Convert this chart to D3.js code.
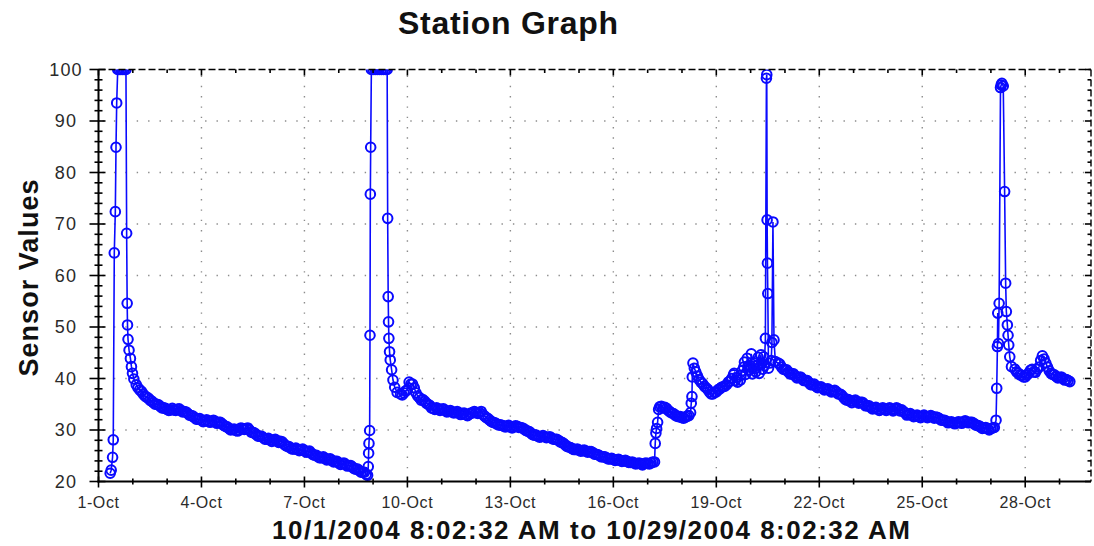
<!DOCTYPE html>
<html><head><meta charset="utf-8">
<script src="https://cdn.jsdelivr.net/npm/d3@7"></script>
<style>body{margin:0;background:#fff}svg{display:block}</style>
</head><body>
<svg id="chart" width="1094" height="546"></svg>
<script>
// ---------------- data (days since 1-Oct-2004 00:00, sensor value) ----------------
const SAMPLE_STEP = 0.1; // days between readings in each smooth stretch

const spike1Days   = [0.34,0.37,0.41,0.43,0.46,0.49,0.51,0.53,0.56,0.60,0.65,0.70,0.75,0.80,0.82,0.835,0.845,0.86,0.89,0.93,0.96,0.99,1.03];
const spike1Values = [21.6,22.2,24.7,28.1,64.4,72.4,84.9,93.5,100,100,100,100,100,100,68.2,54.6,50.4,47.6,45.5,43.9,42.3,41.0,39.9];

const decay1Start  = 1.1;
const decay1Values = [38.8,37.8,37.0,36.4,35.8,35.3,35.0,34.6,34.3,34.0,
                      33.9,33.9,34.0,33.8,33.6,33.2,32.8,32.4,32.1,31.9,
                      31.8,31.7,31.7,31.6,31.5,31.2,30.7,30.3,30.1,29.9,
                      30.0,30.3,30.3,30.0,29.5,29.1,28.8,28.5,28.2,28.1,
                      28.0,27.9,27.8,27.3,26.8,26.5,26.3,26.2,26.1,26.0,
                      25.8,25.5,25.1,24.8,24.6,24.5,24.3,24.1,23.9,23.6,
                      23.5,23.3,23.1,22.8,22.4,22.1,21.8,21.4];
const decay1MidStart  = 1.15;
const decay1MidValues = [38.2,37.5,36.6,36.2,35.6,35.0,34.9,34.3,34.2,33.8,
                         34.2,33.8,34.1,33.5,33.5,32.9,32.7,32.1,32.2,31.6,
                         32.0,31.5,31.9,31.3,31.5,30.9,30.6,30.0,30.2,29.8,
                         30.4,30.1,30.4,29.6,29.4,28.8,28.8,28.2,28.4,27.8,
                         28.2,27.6,27.7,27.0,26.8,26.3,26.5,26.0,26.3,25.7,
                         25.9,25.2,25.1,24.6,24.8,24.2,24.4,23.8,23.9,23.3,
                         23.6,23.0,23.1,22.5,22.4,21.8,21.8];

const spike2Days   = [7.84,7.86,7.87,7.88,7.90,7.91,7.92,7.93,7.95,8.00,8.06,8.12,8.18,8.24,8.30,8.36,8.41,8.425,8.44,8.45,8.46,8.48,8.50,8.54,8.58,8.63,8.70];
const spike2Values = [21.2,22.9,25.5,27.4,29.9,48.4,75.8,84.9,100,100,100,100,100,100,100,100,100,71.1,55.9,51.0,47.8,45.2,43.6,41.7,39.7,38.3,37.3];

const decay2Start  = 8.8;
const decay2Values = [37.0,37.2,37.8,38.9,38.2,36.6,35.8,35.6,35.0,34.3,
                      34.0,34.1,34.0,33.8,33.6,33.5,33.4,33.3,33.2,33.0,
                      33.1,33.3,33.4,33.4,33.0,32.4,31.9,31.5,31.2,31.0,
                      30.8,30.7,30.6,30.6,30.7,30.5,30.2,29.8,29.4,29.0,
                      28.8,28.7,28.7,28.6,28.4,28.2,28.0,27.6,27.1,26.7,
                      26.4,26.2,26.1,26.0,25.9,25.8,25.6,25.3,25.0,24.8,
                      24.6,24.4,24.3,24.2,24.1,24.0,23.9,23.7,23.6,23.5,
                      23.4,23.5,23.5,23.6,23.8];
const decay2MidStart  = 8.85;
const decay2MidValues = [36.8,37.6,39.3,38.9,37.2,36.3,35.9,35.2,34.8,34.2,
                         34.3,33.8,34.1,33.5,33.8,33.3,33.6,33.0,33.3,32.8,
                         33.3,33.6,33.2,33.6,32.7,32.2,31.6,31.4,31.0,30.9,
                         30.6,30.9,30.4,30.8,30.5,30.4,29.9,29.7,29.1,29.0,
                         28.6,28.9,28.5,28.7,28.2,28.2,27.7,27.4,26.8,26.6,
                         26.2,26.3,25.9,26.1,25.7,25.8,25.3,25.2,24.8,24.8,
                         24.4,24.5,24.1,24.3,23.9,24.1,23.7,23.8,23.4,23.6,
                         23.2,23.6,23.4,23.8];

const jump1Days    = [16.22,16.24,16.26,16.29,16.32,16.35];
const jump1Values  = [27.4,29.4,30.3,31.5,34.0,34.5];

const plateauStart  = 16.4;
const plateauValues = [34.6,34.4,33.8,33.3,32.9,32.6,32.4,32.5,32.8];
const plateauMidStart  = 16.45;
const plateauMidValues = [34.3,34.2,33.5,33.2,32.7,32.6,32.3,32.7];

const jump2Days    = [17.25,17.27,17.29,17.30,17.32,17.36,17.40,17.45];
const jump2Values  = [33.4,35.2,36.5,40.3,43.0,42.0,41.3,40.5];

const spike3Days   = [17.5,17.6,17.7,17.8,17.9,18.0,18.1,18.2,18.3,18.4,18.5,
                      18.55,18.6,18.7,18.75,18.8,18.85,18.9,18.95,19.0,
                      19.05,19.1,19.15,19.2,19.25,19.3,19.35,19.4,
                      19.43,19.46,19.47,19.48,19.49,19.50,
                      19.52,19.55,19.6,19.62,19.65,19.68,19.72];
const spike3Values = [39.8,39.0,38.2,37.4,37.0,37.4,38.0,38.4,38.8,39.5,40.7,
                      39.6,40.2,39.7,41.5,42.2,40.8,43.9,41.6,42.4,
                      40.9,43.0,41.3,42.6,41.0,44.6,41.8,42.5,
                      47.8,98.3,99.0,70.8,62.4,56.5,
                      42.0,43.0,43.5,47.0,70.4,47.5,43.3];
const noise3Days   = [17.55,17.65,17.75,17.85,17.95,18.05,18.15,18.25,18.35,18.45,
                      18.52,18.62,18.72,18.82,18.92,19.02,19.12,19.22,19.32,19.38];
const noise3Values = [39.3,38.5,37.9,37.0,37.3,37.8,38.3,38.5,39.3,40.0,
                      41.0,39.3,40.6,43.2,42.4,44.8,41.9,44.1,42.8,44.2];

const decay3Start  = 19.8;
const decay3Values = [43.0,42.2,41.7,41.3,40.9,40.5,40.2,40.0,39.6,39.2,
                      38.8,38.5,38.3,38.1,37.9,37.7,37.5,37.4,37.0,36.4,
                      35.8,35.6,35.6,35.5,35.4,35.1,34.7,34.4,34.2,34.1,
                      34.0,34.0,34.1,34.0,34.0,34.1,33.9,33.3,33.0,32.9,
                      32.7,32.6,32.6,32.6,32.6,32.6,32.5,32.2,31.9,31.7,
                      31.5,31.4,31.4,31.5,31.6,31.6,31.5,31.3,30.9,30.6,
                      30.4,30.3,30.3,30.5];
const decay3MidStart  = 19.85;
const decay3MidValues = [42.8,41.8,41.7,40.9,40.9,40.1,40.3,39.6,39.6,38.8,
                         38.9,38.2,38.4,37.8,38.0,37.4,37.7,37.0,36.8,36.0,
                         35.9,35.3,35.8,35.2,35.4,34.7,34.7,34.1,34.4,33.8,
                         34.3,33.8,34.3,33.7,34.3,33.7,33.6,32.9,33.2,32.6,
                         32.9,32.4,32.9,32.4,32.8,32.3,32.4,31.9,31.9,31.4,
                         31.6,31.2,31.6,31.3,31.8,31.4,31.5,31.0,30.8,30.3,
                         30.5,30.0,30.4];

const spike4Days   = [26.15,26.17,26.19,26.20,26.22,26.24,26.28,26.30,26.32,26.36,26.40,26.43,26.45,26.48,26.50,26.52,26.55,26.60];
const spike4Values = [31.9,38.1,46.2,52.7,46.8,54.6,96.5,97.0,97.3,96.8,76.3,58.5,53.0,50.4,48.4,46.5,44.2,42.3];

const decay4Start  = 26.7;
const decay4Values = [41.8,41.0,40.6,40.3,41.0,41.8,41.2,42.2,44.4,43.0,41.5,40.8,40.4,40.2,40.0,39.8,39.4];
const decay4MidStart  = 26.75;
const decay4MidValues = [41.3,40.7,40.3,40.7,41.6,41.3,41.8,43.5,43.8,42.2,41.0,40.7,40.1,40.3,39.7,39.6];

const yTickLabels = [20,30,40,50,60,70,80,90,100];
const xTickLabels = ["1-Oct","4-Oct","7-Oct","10-Oct","13-Oct","16-Oct","19-Oct","22-Oct","25-Oct","28-Oct"];
const titleText = "Station Graph";
const yTitleText = "Sensor Values";
const xTitleText = "10/1/2004 8:02:32 AM to 10/29/2004 8:02:32 AM";

// ---------------- build ----------------
const origin = new Date(2004, 9, 1);
const DAY = 864e5;
const toDate = d => new Date(origin.getTime() + d * DAY);
const points = [];
const addIrr = (ds, vs) => ds.forEach((d, i) => points.push({ t: toDate(d), v: vs[i] }));
const addReg = (s, vs) => vs.forEach((v, i) => points.push({ t: toDate(s + i * SAMPLE_STEP), v }));
addIrr(spike1Days, spike1Values);
addReg(decay1Start, decay1Values);
addReg(decay1MidStart, decay1MidValues);
addIrr(spike2Days, spike2Values);
addReg(decay2Start, decay2Values);
addReg(decay2MidStart, decay2MidValues);
addIrr(jump1Days, jump1Values);
addReg(plateauStart, plateauValues);
addReg(plateauMidStart, plateauMidValues);
addIrr(jump2Days, jump2Values);
addIrr(spike3Days, spike3Values);
addIrr(noise3Days, noise3Values);
addReg(decay3Start, decay3Values);
addReg(decay3MidStart, decay3MidValues);
addIrr(spike4Days, spike4Values);
addReg(decay4Start, decay4Values);
addReg(decay4MidStart, decay4MidValues);
points.sort((a, b) => a.t - b.t);

const L = 98.5, R = 1091, T = 69.5, B = 481.5;
const x = d3.scaleTime().domain([origin, new Date(2004, 9, 29, 22, 0)]).range([L, R]);
const y = d3.scaleLinear().domain([20, 100]).range([B, T]);

const svg = d3.select("#chart");
const font = "'Liberation Sans', Arial, sans-serif";

// grid
const majorDays = xTickLabels.map((_, i) => toDate(i * 3));
const allDays = d3.range(0, 29).map(toDate);
const grid = svg.append("g").attr("stroke", "#8c8c8c").attr("stroke-width", 1.4);
grid.selectAll("line.h").data(yTickLabels.filter(v => v > 20 && v < 100)).join("line")
  .attr("x1", L + 4).attr("x2", R).attr("y1", d => y(d)).attr("y2", d => y(d))
  .attr("stroke-dasharray", "1.4,10");
grid.selectAll("line.v").data(majorDays.slice(1)).join("line")
  .attr("x1", d => x(d)).attr("x2", d => x(d)).attr("y1", T + 6).attr("y2", B - 4)
  .attr("stroke-dasharray", "1.4,8.9");

// data
svg.append("clipPath").attr("id", "clip").append("rect")
  .attr("x", L).attr("y", T).attr("width", R - L).attr("height", B - T);
const plot = svg.append("g").attr("clip-path", "url(#clip)");
plot.append("path").datum(points)
  .attr("d", d3.line().x(d => x(d.t)).y(d => y(d.v)))
  .attr("fill", "none").attr("stroke", "#0a0aff").attr("stroke-width", 1.6);
plot.selectAll("circle").data(points).join("circle")
  .attr("cx", d => x(d.t)).attr("cy", d => y(d.v)).attr("r", 4.8)
  .attr("fill", "none").attr("stroke", "#0a0aff").attr("stroke-width", 2);

// frame
const ax = svg.append("g").attr("stroke", "#000");
ax.append("line").attr("x1", L).attr("x2", R).attr("y1", T).attr("y2", T)
  .attr("stroke-width", 1.4).attr("stroke-dasharray", "7,3");
ax.append("line").attr("x1", R).attr("x2", R).attr("y1", T).attr("y2", B)
  .attr("stroke-width", 1.4).attr("stroke-dasharray", "7,3");
ax.append("line").attr("x1", L).attr("x2", L).attr("y1", T).attr("y2", B + 1).attr("stroke-width", 2);
ax.append("line").attr("x1", L - 1).attr("x2", R).attr("y1", B).attr("y2", B).attr("stroke-width", 2);

// y ticks (every 2 units)
const yTicks = d3.range(20, 101, 2);
ax.selectAll("line.yt").data(yTicks).join("line")
  .attr("x1", d => d % 10 === 0 ? L - 9 : L - 4).attr("x2", d => d % 10 === 0 ? L + 7 : L + 4)
  .attr("y1", d => y(d)).attr("y2", d => y(d)).attr("stroke-width", 1.6);
ax.selectAll("line.yr").data(yTicks).join("line")
  .attr("x1", d => d % 10 === 0 ? R - 6 : R - 3.5).attr("x2", R)
  .attr("y1", d => y(d)).attr("y2", d => y(d)).attr("stroke-width", 1.6);
// x ticks (every day)
ax.selectAll("line.xt").data(allDays).join("line")
  .attr("x1", d => x(d)).attr("x2", d => x(d))
  .attr("y1", (d, i) => i % 3 === 0 ? B - 5 : B - 3).attr("y2", (d, i) => i % 3 === 0 ? B + 6 : B + 3)
  .attr("stroke-width", 1.6);
ax.selectAll("line.xtop").data(allDays).join("line")
  .attr("x1", d => x(d)).attr("x2", d => x(d))
  .attr("y1", T).attr("y2", (d, i) => i % 3 === 0 ? T + 6 : T + 3.5)
  .attr("stroke-width", 1.6);

// tick labels
svg.append("g").selectAll("text").data(yTickLabels).join("text")
  .attr("x", 66).attr("y", d => y(d)).attr("dy", "0.36em")
  .attr("text-anchor", "middle").attr("font-family", font).attr("font-size", 18)
  .attr("letter-spacing", 1.2).attr("fill", "#2a2a2a").text(d => d);
svg.append("g").selectAll("text").data(xTickLabels).join("text")
  .attr("x", (d, i) => x(majorDays[i])).attr("y", 508)
  .attr("text-anchor", "middle").attr("font-family", font).attr("font-size", 16)
  .attr("letter-spacing", 0.6).attr("fill", "#2a2a2a").text(d => d);

// titles
svg.append("text").attr("x", 508).attr("y", 34).attr("text-anchor", "middle")
  .attr("font-family", font).attr("font-weight", "bold").attr("font-size", 32)
  .attr("textLength", 220).attr("lengthAdjust", "spacing")
  .attr("fill", "#111").text(titleText);
svg.append("text").attr("transform", "translate(38,278) rotate(-90)").attr("text-anchor", "middle")
  .attr("font-family", font).attr("font-weight", "bold").attr("font-size", 27)
  .attr("textLength", 197).attr("lengthAdjust", "spacing")
  .attr("fill", "#111").text(yTitleText);
svg.append("text").attr("x", 591).attr("y", 539).attr("text-anchor", "middle")
  .attr("font-family", font).attr("font-weight", "bold").attr("font-size", 26)
  .attr("textLength", 638).attr("lengthAdjust", "spacing")
  .attr("fill", "#111").text(xTitleText);
</script>
</body></html>
